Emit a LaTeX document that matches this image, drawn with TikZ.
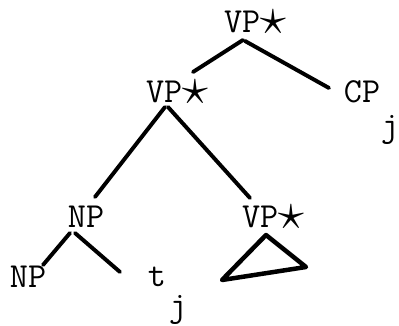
\documentclass[tikz,border=0pt]{standalone}
\usepackage{graphicx}
\usetikzlibrary{calc}
\newcommand{\vpstar}{VP\raisebox{-0.1ex}{\scalebox{1.5}{$\star$}}}

\begin{document}
\begin{tikzpicture}[
  x=0.025cm, y=-0.025cm,
  cat/.style={font=\fontsize{25}{28}\selectfont\ttfamily, inner sep=0pt},
  branch/.style={line width=2.8pt, line cap=round, line join=round}
]
\useasboundingbox (0,0) rectangle (399,326);
\node[cat](vptop) at (255,22){\vpstar};
\node[cat](vpmid) at (177,92){\vpstar};
\node[cat](cp) at (362,92){CP};
\node[cat](cpj) at (390,130){j};
\node[cat](np) at (86,217){NP};
\node[cat](vplow) at (273,217){\vpstar};
\node[cat](nplow) at (28,277){NP};
\node[cat](t) at (157,277){t};
\node[cat](tj) at (178,310){j};
\draw[branch] ($(vptop)+(-12,18)$)--($(vpmid)+(16,-20)$);
\draw[branch] ($(vptop)+(-10,19)$)--($(cp)+(-33,-4)$);
\draw[branch] ($(vpmid)+(-12,15)$)--($(np)+(9,-20)$);
\draw[branch] ($(vpmid)+(-9,15)$)--($(vplow)+(-23,-19)$);
\draw[branch] ($(np)+(-16,16)$)--($(nplow)+(15,-12)$);
\draw[branch] ($(np)+(-11,16)$)--($(t)+(-37,-5)$);
\draw[branch, line width=3.2pt] ($(vplow)+(-7,18)$)--($(vplow)+(-51,63)$)--($(vplow)+(33,50)$)--cycle;
\end{tikzpicture}
\end{document}
